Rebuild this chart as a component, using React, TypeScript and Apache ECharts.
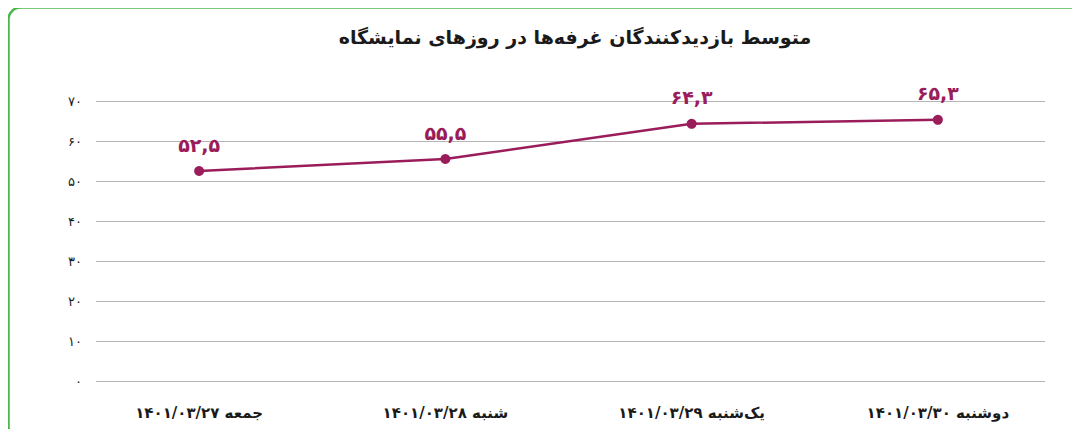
import React, { useEffect, useRef } from "react";
import * as echarts from "echarts";

const titleText = "متوسط بازدیدکنندگان غرفه‌ها در روزهای نمایشگاه";
const dayNames = ["جمعه", "شنبه", "یک‌شنبه", "دوشنبه"];
const dates = ["1401/03/27", "1401/03/28", "1401/03/29", "1401/03/30"];
const values = [52.5, 55.5, 64.3, 65.3];
const yMin = 0;
const yMax = 70;
const yInterval = 10;

const faDigits = "۰۱۲۳۴۵۶۷۸۹";
function toFa(s: string): string {
  return s.replace(/[0-9]/g, (d) => faDigits[Number(d)]).replace(/\./g, ",");
}

const categories = dayNames.map((d, i) => d + " " + toFa(dates[i]));

const FONT = "DejaVu Sans";
const LINE_COLOR = "#9a1c5b";

export default function App() {
  const ref = useRef<HTMLDivElement>(null);
  useEffect(() => {
    if (!ref.current) return;
    const chart = echarts.init(ref.current, undefined, { renderer: "svg" });
    chart.setOption({
      animation: false,
      backgroundColor: "#ffffff",
      textStyle: { fontFamily: FONT },
      title: {
        text: titleText,
        left: 570,
        textAlign: "center",
        top: 22,
        textStyle: { fontFamily: FONT, fontSize: 19, fontWeight: "bold", color: "#1a1a1a" },
      },
      graphic: [
        {
          type: "rect",
          shape: { x: 8.5, y: 7.5, width: 1090, height: 431, r: 12 },
          style: { fill: "none", stroke: "#4cb84c", lineWidth: 2.5 },
          silent: true,
          z: 100,
        },
      ],
      grid: [
        { left: 96, right: 35, top: 101, bottom: 56 },
        { left: 76, right: 19, top: 101, bottom: 56 },
      ],
      xAxis: [
        {
          type: "category",
          gridIndex: 0,
          data: categories,
          show: false,
        },
        {
          type: "category",
          gridIndex: 1,
          data: categories,
          boundaryGap: true,
          axisLine: { show: false },
          axisTick: { show: false },
          axisLabel: {
            margin: 24,
            fontFamily: FONT,
            fontSize: 15,
            fontWeight: "bold",
            color: "#1a1a1a",
          },
        },
      ],
      yAxis: [
        {
          type: "value",
          gridIndex: 0,
          min: yMin,
          max: yMax,
          interval: yInterval,
          axisLine: { show: false },
          axisTick: { show: false },
          splitLine: { show: true, lineStyle: { color: "#b5b5b5", width: 1 } },
          axisLabel: {
            margin: 14,
            fontFamily: FONT,
            fontSize: 13,
            color: "#1a1a1a",
            formatter: (v: number) => toFa(String(v)),
          },
        },
        {
          type: "value",
          gridIndex: 1,
          min: yMin,
          max: yMax,
          interval: yInterval,
          show: false,
          splitLine: { show: false },
        },
      ],
      series: [
        {
          type: "line",
          xAxisIndex: 1,
          yAxisIndex: 1,
          data: values,
          symbol: "circle",
          symbolSize: 10,
          lineStyle: { color: LINE_COLOR, width: 2.5 },
          itemStyle: { color: LINE_COLOR },
          label: {
            show: true,
            position: "top",
            distance: 12,
            fontFamily: FONT,
            fontSize: 19,
            fontWeight: "bold",
            color: LINE_COLOR,
            formatter: (p: any) => toFa(String(p.value)),
          },
        },
      ],
    });
    return () => chart.dispose();
  }, []);
  return <div ref={ref} style={{ width: 1080, height: 437, margin: -8 }} />;
}
